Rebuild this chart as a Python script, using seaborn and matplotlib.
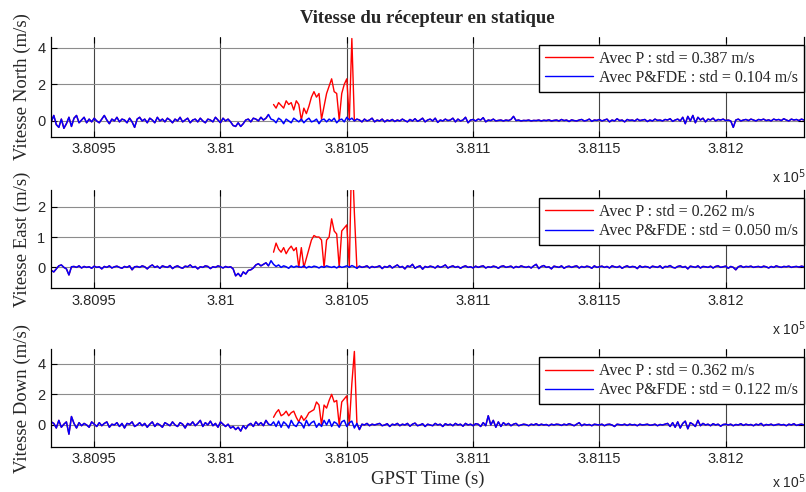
import numpy as np
import pandas as pd
import matplotlib
matplotlib.use("Agg")
import matplotlib.pyplot as plt
import seaborn as sns
from matplotlib.lines import Line2D

# ---------------- data ----------------
t_start = 380932          # first epoch (s)
t_end = 381231            # last epoch (s)
fault_start = 381021      # first epoch where the P-only solution diverges

north_pfde = [
    0.25, -0.05, 0.3, -0.2, -0.35, 0.1, -0.4, -0.15, 0.2, -0.3,
    0.15, 0.3, -0.1, 0.05, 0.2, -0.1, 0.1, -0.05, 0.15, 0.0,
    -0.1, 0.1, 0.3, 0.05, -0.15, 0.1, 0.0, 0.2, -0.05, 0.1,
    0.05, -0.1, 0.15, -0.05, -0.35, 0.1, 0.2, 0.0, 0.1, -0.1,
    0.15, 0.05, -0.1, 0.2, 0.0, 0.1, -0.05, 0.15, 0.05, -0.1,
    0.1, 0.0, 0.2, -0.05, 0.05, 0.15, -0.1, 0.05, 0.1, -0.05,
    0.15, 0.0, -0.1, 0.1, 0.05, -0.05, 0.2, 0.05, -0.1, 0.15,
    0.0, 0.1, -0.05, -0.25, -0.3, -0.1, -0.3, -0.15, 0.05, 0.1,
    -0.05, 0.15, 0.1, 0.0, 0.2, 0.05, 0.15, 0.35, 0.1, 0.05,
    -0.1, 0.15, 0.05, -0.15, 0.1, 0.0, -0.1, 0.15, 0.05, -0.05,
    0.1, -0.1, 0.05, 0.15, -0.05, 0.0, 0.1, -0.15, 0.05, 0.1,
    -0.05, 0.1, 0.0, 0.15, -0.1, 0.05, 0.1, -0.05, 0.2, 0.05,
    0.15, 0.0, 0.1, 0.05, -0.05, 0.1, 0.0, 0.05, 0.15, -0.05,
    0.05, 0.0, 0.1, -0.05, 0.05, 0.0, 0.08, -0.03, 0.05, 0.0,
    0.1, 0.02, -0.05, 0.08, 0.0, 0.12, -0.02, 0.05, 0.15, -0.05,
    0.05, 0.1, 0.0, 0.15, -0.08, 0.05, 0.0, 0.1, 0.02, 0.05,
    0.15, -0.05, 0.1, 0.0, 0.05, 0.2, -0.1, 0.05, 0.08, 0.0,
    0.1, 0.05, 0.18, -0.05, 0.05, 0.02, 0.1, 0.0, 0.03, 0.05,
    0.0, 0.05, 0.02, 0.08, 0.25, 0.02, 0.05, 0.0, 0.03, 0.02,
    0.05, 0.0, 0.03, 0.02, 0.05, 0.0, 0.04, 0.02, 0.06, 0.0,
    0.03, 0.05, 0.0, 0.08, 0.02, 0.05, -0.03, 0.06, 0.02, 0.0,
    0.05, 0.08, 0.0, 0.03, 0.1, -0.02, 0.05, 0.03, 0.08, 0.0,
    0.05, 0.1, -0.05, 0.05, 0.0, 0.12, 0.02, 0.05, -0.05, 0.08,
    0.03, 0.05, 0.0, 0.1, 0.02, 0.05, 0.08, -0.03, 0.05, 0.0,
    0.1, 0.03, 0.05, 0.0, 0.08, 0.05, 0.12, -0.02, 0.05, 0.1,
    0.0, 0.2, -0.15, 0.25, 0.0, 0.3, -0.1, 0.2, 0.05, 0.15,
    -0.05, 0.1, 0.05, 0.15, 0.0, 0.08, 0.05, 0.1, 0.02, 0.05,
    0.0, -0.35, 0.05, 0.1, 0.0, 0.05, 0.08, 0.02, 0.1, 0.05,
    0.0, 0.08, 0.05, 0.1, 0.02, 0.06, 0.0, 0.1, 0.05, 0.08,
    0.02, 0.12, 0.05, 0.0, 0.1, 0.05, 0.08, 0.02, 0.1, 0.05,
]

east_pfde = [
    0.0, -0.1, -0.15, -0.05, 0.05, 0.08, 0.0, -0.05, -0.25, 0.02,
    0.03, 0.0, 0.05, -0.02, 0.03, 0.0, 0.02, -0.03, 0.04, 0.0,
    0.02, -0.05, 0.03, 0.0, 0.05, -0.02, 0.02, 0.04, 0.0, -0.03,
    0.03, 0.0, 0.05, -0.08, 0.02, 0.03, 0.0, 0.05, 0.02, -0.05,
    0.03, 0.08, 0.0, 0.04, -0.03, 0.05, 0.02, 0.0, 0.06, -0.04,
    0.02, 0.05, 0.0, -0.03, 0.04, 0.02, 0.08, 0.0, 0.03, -0.05,
    0.02, 0.0, 0.05, 0.03, -0.04, 0.02, 0.0, 0.05, 0.02, -0.02,
    0.03, 0.0, 0.02, -0.05, -0.28, -0.2, -0.3, -0.15, -0.22, -0.1,
    -0.08, -0.02, 0.08, 0.12, 0.05, 0.1, 0.15, 0.05, 0.22, 0.1,
    0.03, 0.08, 0.0, 0.05, 0.02, -0.03, 0.05, 0.0, 0.04, 0.02,
    0.0, 0.05, -0.02, 0.03, 0.0, 0.04, 0.02, -0.02, 0.03, 0.0,
    0.05, 0.02, 0.0, 0.03, -0.02, 0.04, 0.0, 0.02, 0.05, 0.0,
    0.06, 0.02, -0.03, 0.04, 0.0, 0.02, 0.05, -0.02, 0.03, 0.0,
    0.02, 0.05, -0.04, 0.03, 0.0, 0.06, -0.02, 0.03, 0.08, 0.0,
    0.03, -0.05, 0.05, 0.02, 0.1, -0.03, 0.02, 0.05, -0.06, 0.03,
    0.0, 0.04, 0.02, -0.02, 0.05, 0.0, 0.03, 0.08, -0.02, 0.02,
    0.05, 0.0, 0.03, -0.03, 0.02, 0.05, 0.0, 0.02, -0.02, 0.04,
    0.0, 0.03, 0.05, -0.02, 0.02, 0.0, 0.04, 0.02, -0.03, 0.03,
    0.05, 0.0, 0.02, 0.04, -0.02, 0.03, 0.0, 0.05, 0.02, 0.0,
    0.03, -0.02, 0.05, 0.1, -0.04, 0.03, 0.06, 0.0, 0.02, -0.05,
    0.04, 0.02, 0.0, 0.05, -0.03, 0.02, 0.04, 0.0, 0.03, 0.05,
    -0.02, 0.03, 0.0, 0.04, 0.02, -0.03, 0.05, 0.0, 0.02, 0.04,
    0.0, 0.03, -0.02, 0.05, 0.02, 0.0, 0.04, -0.03, 0.02, 0.05,
    0.0, 0.03, 0.02, -0.04, 0.05, 0.0, 0.03, 0.02, -0.02, 0.04,
    0.02, 0.0, 0.05, -0.03, 0.03, 0.02, 0.06, 0.0, -0.02, 0.03,
    0.05, 0.0, 0.03, -0.05, 0.04, 0.02, 0.0, 0.05, -0.02, 0.03,
    0.02, 0.0, 0.04, -0.02, 0.03, 0.05, 0.0, 0.02, 0.04, -0.03,
    0.03, 0.0, -0.08, 0.02, 0.05, 0.0, 0.03, 0.02, 0.04, 0.0,
    0.02, 0.03, 0.0, 0.04, 0.02, -0.02, 0.03, 0.0, 0.05, 0.02,
    0.0, 0.03, 0.02, 0.04, 0.0, 0.02, 0.03, 0.01, 0.04, 0.02,
]

down_pfde = [
    -0.1, 0.2, 0.1, -0.2, 0.3, -0.15, 0.05, 0.2, -0.6, 0.55,
    0.1, -0.2, 0.15, -0.05, 0.1, 0.0, -0.15, 0.2, 0.05, -0.1,
    0.15, -0.05, 0.1, 0.2, -0.15, 0.05, 0.0, 0.15, -0.1, 0.1,
    -0.2, 0.1, 0.05, 0.2, -0.1, 0.0, 0.15, -0.05, 0.1, -0.15,
    0.05, 0.2, -0.1, 0.1, 0.0, -0.15, 0.15, 0.05, -0.05, 0.2,
    0.0, -0.1, 0.15, 0.05, -0.2, 0.1, 0.0, 0.2, -0.05, 0.1,
    0.3, -0.1, 0.15, 0.0, 0.25, -0.05, 0.1, -0.15, 0.2, 0.05,
    -0.1, 0.05, -0.2, -0.1, -0.3, -0.15, -0.4, -0.05, -0.25, 0.0,
    0.1, -0.1, 0.2, 0.0, 0.15, -0.05, 0.3, 0.05, 0.0, 0.2,
    -0.1, 0.25, -0.15, 0.2, 0.05, -0.2, 0.3, 0.0, -0.1, 0.2,
    0.1, -0.2, 0.3, -0.05, 0.15, 0.25, -0.15, 0.1, -0.1, 0.3,
    0.0, 0.35, -0.1, 0.2, 0.1, -0.15, 0.2, 0.3, -0.1, 0.15,
    0.25, -0.2, 0.1, -0.3, 0.05, 0.0, 0.1, -0.05, 0.05, 0.0,
    0.05, 0.1, -0.05, 0.0, 0.08, -0.1, 0.05, 0.0, 0.1, -0.05,
    0.05, 0.0, 0.1, -0.08, 0.05, 0.12, -0.05, 0.0, 0.08, -0.1,
    0.05, 0.0, -0.05, 0.1, 0.0, 0.05, -0.1, 0.08, 0.0, 0.05,
    -0.05, 0.1, 0.0, 0.05, -0.08, 0.1, 0.0, 0.05, -0.05, 0.08,
    0.05, -0.1, 0.15, -0.05, 0.6, 0.0, 0.3, -0.15, 0.2, -0.1,
    0.15, 0.0, 0.1, -0.05, 0.05, 0.1, -0.05, 0.0, 0.05, 0.02,
    -0.05, 0.05, 0.0, 0.08, -0.03, 0.05, 0.0, 0.03, -0.05, 0.05,
    0.0, 0.05, 0.03, -0.03, 0.05, 0.0, 0.08, 0.02, -0.05, 0.05,
    0.15, -0.05, 0.05, 0.0, 0.03, -0.05, 0.05, 0.02, 0.0, 0.05,
    -0.05, 0.03, 0.05, 0.0, -0.1, 0.05, 0.02, 0.0, 0.05, -0.03,
    0.05, 0.0, 0.03, -0.05, 0.05, 0.0, 0.02, 0.05, -0.02, 0.0,
    0.05, -0.05, 0.03, 0.0, 0.05, 0.1, -0.1, 0.15, -0.15, 0.2,
    -0.2, 0.1, 0.25, -0.25, 0.15, 0.05, -0.1, 0.3, -0.05, 0.1,
    0.0, 0.05, -0.05, 0.08, 0.0, 0.05, -0.08, 0.03, 0.05, 0.0,
    0.05, -0.05, 0.03, 0.0, 0.08, -0.03, 0.05, 0.0, 0.03, -0.05,
    0.05, 0.0, 0.1, -0.05, 0.03, 0.0, 0.05, -0.03, 0.02, 0.05,
    0.0, 0.03, -0.05, 0.05, 0.0, 0.08, -0.03, 0.02, 0.05, 0.0,
]

# P-only solution during the faulty period (from fault_start, 1 s steps)
north_p_fault = [0.9, 0.7, 1.0, 0.85, 0.7, 1.1, 0.9, 1.0, 0.6, 1.1,
                 0.9, 0.05, 0.7, 0.4, 0.8, 1.3, 1.6, 1.3, 1.5, 0.1,
                 0.8, 1.5, 1.9, 2.3, 1.6, 1.5, 0.05, 1.5, 2.0, 2.3,
                 0.05, 4.5]
east_p_fault = [0.5, 0.8, 0.6, 0.5, 0.65, 0.45, 0.6, 0.7, 0.55, 0.65,
                0.0, 0.65, 0.0, 0.3, 0.6, 0.9, 1.05, 1.0, 1.0, 0.9,
                0.0, 0.9, 1.0, 1.6, 1.2, 1.1, 0.0, 1.2, 1.3, 1.4,
                0.0, 4.0, 1.8]
down_p_fault = [0.5, 0.8, 1.0, 0.6, 0.7, 0.9, 0.6, 0.8, 0.9, 0.5,
                0.2, 0.6, 0.3, 0.5, 0.8, 0.9, 1.0, 1.5, 1.3, 0.0,
                1.3, 1.1, 1.6, 2.0, 1.5, 1.6, 0.0, 1.5, 1.7, 1.9,
                0.0, 2.7, 4.8]

std_p = [0.387, 0.262, 0.362]
std_pfde = [0.104, 0.050, 0.122]
ylabels = ["Vitesse North (m/s)", "Vitesse East (m/s)", "Vitesse Down (m/s)"]
yticks_list = [[0, 2, 4], [0, 1, 2], [0, 2, 4]]
ylims = [(-0.86, 4.6), (-0.69, 2.55), (-1.42, 4.94)]
xticks = [380950, 381000, 381050, 381100, 381150, 381200]
title = "Vitesse du récepteur en statique"
xlabel = "GPST Time (s)"

# ---------------- style ----------------
sns.set_style("white")
plt.rcParams["font.family"] = ["Liberation Sans", "DejaVu Sans"]
SERIF = ["Liberation Serif", "DejaVu Serif"]

times = np.arange(t_start, t_end + 1)
for arr in (north_pfde, east_pfde, down_pfde):
    assert len(arr) == len(times), len(arr)

fig = plt.figure(figsize=(8.06, 4.92), dpi=100)
W = 806.0
H = 492.0
ax_px = [(36.7, 136.7), (190.0, 288.3), (349.3, 446.7)]  # top, bottom pixel rows
left_px, right_px = 51.0, 804.0

blues = [north_pfde, east_pfde, down_pfde]
faults = [north_p_fault, east_p_fault, down_p_fault]

for k in range(3):
    top, bot = ax_px[k]
    ax = fig.add_axes([left_px / W, 1 - bot / H, (right_px - left_px) / W, (bot - top) / H])

    blue = np.array(blues[k], dtype=float)
    red = blue.copy()
    i0 = fault_start - t_start
    red[i0:i0 + len(faults[k])] = faults[k]
    part = (times >= fault_start).astype(int)
    keep = times != fault_start - 1
    df_red = pd.DataFrame({"t": times[keep], "v": red[keep], "part": part[keep]})
    df_blue = pd.DataFrame({"t": times, "v": blue})

    sns.lineplot(data=df_red, x="t", y="v", units="part", estimator=None,
                 color=(1, 0, 0), lw=1.0, ax=ax)
    sns.lineplot(data=df_blue, x="t", y="v", estimator=None,
                 color=(0, 0, 1), lw=1.1, ax=ax)

    ax.set_xlim(380932.9, 381231.0)
    ax.set_ylim(*ylims[k])
    ax.set_xticks(xticks, [f"{v / 1e5:g}" for v in xticks])
    ax.set_yticks(yticks_list[k], [str(v) for v in yticks_list[k]])
    ax.set_xlabel("")
    ax.set_ylabel(ylabels[k], family=SERIF, fontsize=13.5)
    ax.yaxis.set_label_coords(-0.027, 0.5)

    for x in xticks:
        ax.axvline(x, color="#444444", lw=0.8, zorder=0.5)
    for y in yticks_list[k]:
        ax.axhline(y, color="#8c8c8c", lw=0.8, zorder=0.5)

    ax.tick_params(direction="in", length=4, width=0.8, color="black",
                   labelsize=10.5, pad=4, top=True, right=True, bottom=True, left=True)
    for s in ["left", "bottom", "right"]:
        ax.spines[s].set_color("black")
        ax.spines[s].set_linewidth(0.9)
    ax.spines["top"].set_visible(False)

    handles = [Line2D([], [], color=(1, 0, 0), lw=1.0), Line2D([], [], color=(0, 0, 1), lw=1.0)]
    labels = [f"Avec P : std = {std_p[k]:.3f} m/s", f"Avec P&FDE : std = {std_pfde[k]:.3f} m/s"]
    leg = ax.legend(handles, labels, loc="upper right", bbox_to_anchor=(1.0, 0.92),
                    borderaxespad=0, fancybox=False, framealpha=1, edgecolor="black",
                    prop={"family": SERIF, "size": 11.5}, handlelength=3.0,
                    handletextpad=0.35, labelspacing=0.2, borderpad=0.38)
    leg.get_frame().set_linewidth(1.0)

    fig.text(772 / W, 1 - min(bot + 40, 482) / H, "x 10$^5$", fontsize=10,
             ha="left", va="center")

    if k == 0:
        ax.set_title(title, family=SERIF, fontsize=13.5, fontweight="bold", pad=10)
    if k == 2:
        ax.set_xlabel(xlabel, family=SERIF, fontsize=13.5, labelpad=3)

fig.savefig("out.png", dpi=100)
